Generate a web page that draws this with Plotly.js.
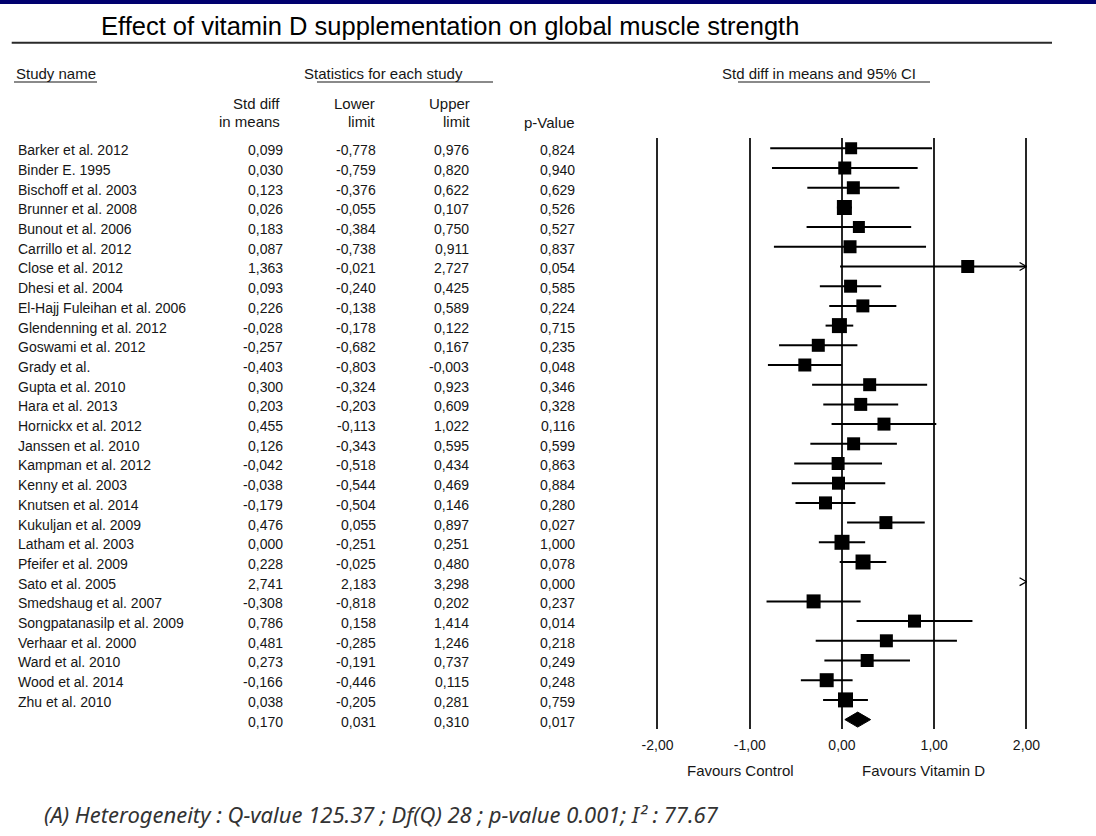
<!DOCTYPE html>
<html><head><meta charset="utf-8">
<script src="https://cdn.plot.ly/plotly-3.0.1.min.js"></script>
<style>html,body{margin:0;padding:0;background:#fff}#chart{width:1096px;height:836px}</style>
</head><body><div id="chart"></div>
<script>
// ---------- DATA ----------
const studies = ["Barker et al. 2012","Binder E. 1995","Bischoff et al. 2003","Brunner et al. 2008","Bunout et al. 2006","Carrillo et al. 2012","Close et al. 2012","Dhesi et al. 2004","El-Hajj Fuleihan et al. 2006","Glendenning et al. 2012","Goswami et al. 2012","Grady et al.","Gupta et al. 2010","Hara et al. 2013","Hornickx et al. 2012","Janssen et al. 2010","Kampman et al. 2012","Kenny et al. 2003","Knutsen et al. 2014","Kukuljan et al. 2009","Latham et al. 2003","Pfeifer et al. 2009","Sato et al. 2005","Smedshaug et al. 2007","Songpatanasilp et al. 2009","Verhaar et al. 2000","Ward et al. 2010","Wood et al. 2014","Zhu et al. 2010"];
const stdDiff = [0.099,0.030,0.123,0.026,0.183,0.087,1.363,0.093,0.226,-0.028,-0.257,-0.403,0.300,0.203,0.455,0.126,-0.042,-0.038,-0.179,0.476,0.000,0.228,2.741,-0.308,0.786,0.481,0.273,-0.166,0.038];
const lowerLimit = [-0.778,-0.759,-0.376,-0.055,-0.384,-0.738,-0.021,-0.240,-0.138,-0.178,-0.682,-0.803,-0.324,-0.203,-0.113,-0.343,-0.518,-0.544,-0.504,0.055,-0.251,-0.025,2.183,-0.818,0.158,-0.285,-0.191,-0.446,-0.205];
const upperLimit = [0.976,0.820,0.622,0.107,0.750,0.911,2.727,0.425,0.589,0.122,0.167,-0.003,0.923,0.609,1.022,0.595,0.434,0.469,0.146,0.897,0.251,0.480,3.298,0.202,1.414,1.246,0.737,0.115,0.281];
const pValue = [0.824,0.940,0.629,0.526,0.527,0.837,0.054,0.585,0.224,0.715,0.235,0.048,0.346,0.328,0.116,0.599,0.863,0.884,0.280,0.027,1.000,0.078,0.000,0.237,0.014,0.218,0.249,0.248,0.759];
const summaryStdDiff = [0.170];
const summaryLower = [0.031];
const summaryUpper = [0.310];
const summaryP = [0.017];
const xTickVals = [-2,-1,0,1,2];
const heterogeneityText = "(A) Heterogeneity : Q-value 125.37 ; Df(Q) 28 ; p-value 0.001; I² : 77.67";
const titleText = "Effect of vitamin D supplementation on global muscle strength";
// marker sizes (px)
const markerSize = [12,13,13,15,12,13,13,13,13,15,13,13,13,13,13,13,13,13,13,13,15,15,0,14,13,13,13,14,15];

// ---------- LAYOUT HELPERS ----------
const W = 1096, H = 836;
const px = x => x / W;
const py = y => 1 - y / H;
const FN = "'Liberation Sans','Arial',sans-serif";
const TXT = '#161616';
const fmt = v => v.toFixed(3).replace('.', ',');
const XMIN = -2, XMAX = 2;

const nRows = studies.length;
const rows = studies.map((_, i) => i);

// ---------- TRACES ----------
const ciX = [], ciY = [];
rows.forEach(i => {
  if (lowerLimit[i] > XMAX) return;
  ciX.push(Math.max(lowerLimit[i], XMIN), Math.min(upperLimit[i], XMAX), null);
  ciY.push(i, i, null);
});
const ciTrace = {x: ciX, y: ciY, mode: 'lines', line: {color: '#000', width: 2}, hoverinfo: 'skip', showlegend: false};

const vis = rows.filter(i => stdDiff[i] <= XMAX);
const sqTrace = {
  x: vis.map(i => stdDiff[i]), y: vis, mode: 'markers',
  marker: {symbol: 'square', color: '#000', opacity: 1, size: vis.map(i => markerSize[i]), line: {width: 0}},
  showlegend: false, hoverinfo: 'skip'
};

const arrX = [], arrY = [];
rows.filter(i => upperLimit[i] > XMAX).forEach(i => {
  arrX.push(XMAX - 0.075, XMAX, XMAX - 0.075, null);
  arrY.push(i - 0.2, i, i + 0.2, null);
});
const arrTrace = {x: arrX, y: arrY, mode: 'lines', line: {color: '#000', width: 1.3}, showlegend: false, hoverinfo: 'skip'};

const sr = nRows, dh = 0.38;
const diamond = {
  x: [summaryLower[0], summaryStdDiff[0], summaryUpper[0], summaryStdDiff[0], summaryLower[0]],
  y: [sr, sr - dh, sr, sr + dh, sr],
  mode: 'lines', fill: 'toself', fillcolor: '#000', line: {color: '#000', width: 1},
  showlegend: false, hoverinfo: 'skip'
};

// ---------- ANNOTATIONS ----------
const ann = [];
const rowFont = {family: FN, size: 14, color: TXT};
const rowOff = 0.1;
const cols = [
  {vals: stdDiff, right: 285},
  {vals: lowerLimit, right: 378},
  {vals: upperLimit, right: 471},
  {vals: pValue, right: 577}
];
rows.forEach(i => {
  ann.push({xref: 'paper', yref: 'y', x: px(16), y: i + rowOff, text: studies[i], xanchor: 'left', yanchor: 'middle', showarrow: false, font: rowFont});
  cols.forEach(c => ann.push({xref: 'paper', yref: 'y', x: px(c.right), y: i + rowOff, text: fmt(c.vals[i]), xanchor: 'right', yanchor: 'middle', showarrow: false, font: rowFont}));
});
[summaryStdDiff, summaryLower, summaryUpper, summaryP].forEach((arr, k) => {
  ann.push({xref: 'paper', yref: 'y', x: px(cols[k].right), y: sr + rowOff, text: fmt(arr[0]), xanchor: 'right', yanchor: 'middle', showarrow: false, font: rowFont});
});
function T(text, x, y, anchor, font) {
  ann.push({xref: 'paper', yref: 'paper', x: px(x), y: py(y), text: text, xanchor: anchor, yanchor: 'middle', showarrow: false, font: font || rowFont});
}
const hf = {family: FN, size: 15, color: TXT};
T(titleText, 450, 26, 'center', {family: FN, size: 25.5, color: '#000'});
T('Study name', 14, 74, 'left', hf);
T('Statistics for each study', 301.7, 74, 'left', hf);
T('Std diff in means and 95% CI', 720, 74, 'left', hf);
T('Std diff', 282, 104, 'right', hf);
T('in means', 282, 121, 'right', hf);
T('Lower', 377, 104, 'right', hf);
T('limit', 377, 121, 'right', hf);
T('Upper', 472, 104, 'right', hf);
T('limit', 472, 121, 'right', hf);
T('p-Value', 577, 123, 'right', hf);
T('Favours Control', 740, 770, 'center', hf);
T('Favours Vitamin D', 923, 770, 'center', hf);
T('<i>' + heterogeneityText + '</i>', 42, 814, 'left', {family: "'Noto Sans','Open Sans',sans-serif", size: 22, color: '#333'});

// ---------- SHAPES ----------
const shapes = [
  {type: 'rect', xref: 'paper', yref: 'paper', x0: 0, x1: 1, y0: py(4), y1: 1, fillcolor: '#00006e', line: {width: 0}},
  {type: 'line', xref: 'paper', yref: 'paper', x0: px(11.7), x1: px(1052), y0: py(42.7), y1: py(42.7), line: {color: '#2a2a2a', width: 2}},
  {type: 'line', xref: 'paper', yref: 'paper', x0: px(14), x1: px(97), y0: py(82), y1: py(82), line: {color: '#8a8a8a', width: 2}},
  {type: 'line', xref: 'paper', yref: 'paper', x0: px(317), x1: px(493), y0: py(82), y1: py(82), line: {color: '#8a8a8a', width: 2}},
  {type: 'line', xref: 'paper', yref: 'paper', x0: px(738), x1: px(930), y0: py(82), y1: py(82), line: {color: '#8a8a8a', width: 2}}
];

// ---------- AXES ----------
const pxPerUnit = (1026.5 - 657.5) / 4;
const pad = 0.1;
const xLeftPx = 657.5 - pad * pxPerUnit, xRightPx = 1026.5 + pad * pxPerUnit;
const yTopPx = 138, yBotPx = 729, row0Px = 148.3, pitch = 19.7;

const layout = {
  width: W, height: H,
  margin: {l: 0, r: 0, t: 0, b: 0},
  paper_bgcolor: '#fff', plot_bgcolor: 'rgba(0,0,0,0)',
  showlegend: false,
  font: {family: FN, color: TXT},
  xaxis: {
    domain: [px(xLeftPx), px(xRightPx)],
    range: [XMIN - pad, XMAX + pad],
    tickvals: xTickVals, ticktext: xTickVals.map(v => v.toFixed(2).replace('.', ',')),
    showgrid: true, gridcolor: '#262626', gridwidth: 2,
    zeroline: false, showline: false, ticks: '',
    tickfont: {family: FN, size: 14, color: TXT},
    ticklabelstandoff: 6, fixedrange: true
  },
  yaxis: {
    domain: [1 - yBotPx / H, 1 - yTopPx / H],
    range: [(yBotPx - row0Px) / pitch, (yTopPx - row0Px) / pitch],
    showgrid: false, zeroline: false, showticklabels: false, ticks: '', showline: false, fixedrange: true
  },
  annotations: ann,
  shapes: shapes
};

Plotly.newPlot('chart', [ciTrace, sqTrace, arrTrace, diamond], layout, {displayModeBar: false, staticPlot: true});
</script>
</body></html>
